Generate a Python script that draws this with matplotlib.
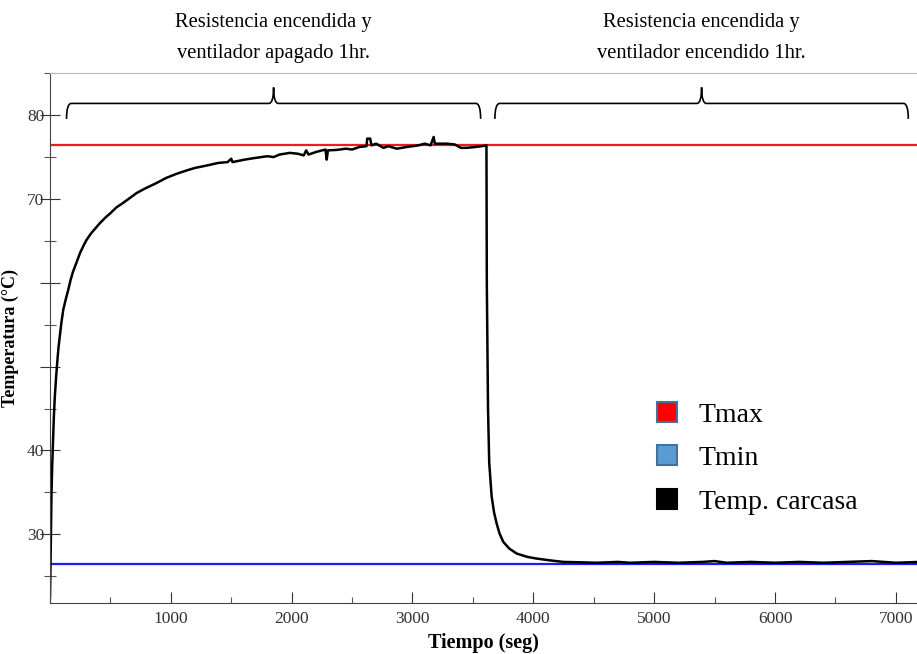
import matplotlib
matplotlib.use('Agg')
import matplotlib.pyplot as plt
from matplotlib.lines import Line2D
from matplotlib.path import Path
from matplotlib.patches import PathPatch
from matplotlib.ticker import MultipleLocator

# data
tiempo = [0, 3, 8, 12, 18, 25, 32, 40, 50, 60, 70, 81, 95, 110, 130, 150, 170, 190, 219, 250, 280, 302, 340,
          370, 412, 460, 500, 550, 592, 650, 716, 780, 881, 960, 1047, 1130, 1199, 1300, 1392, 1470, 1500,
          1510, 1613, 1700, 1800, 1850, 1900, 1985, 2050, 2100, 2120, 2140, 2200, 2280, 2290, 2300, 2372,
          2450, 2500, 2560, 2620, 2625, 2650, 2660, 2700, 2760, 2800, 2870, 2951, 3050, 3100, 3150, 3175,
          3185, 3282, 3350, 3400, 3448, 3520, 3599, 3612, 3615, 3625, 3635, 3655, 3675, 3696, 3720, 3751,
          3800, 3862, 3950, 4027, 4130, 4248, 4400, 4524, 4700, 4800, 5000, 5200, 5400, 5500, 5600, 5800,
          6000, 6200, 6400, 6600, 6800, 7000, 7200]
temp_carcasa = [22.5, 25.0, 30.0, 34.5, 38.0, 41.0, 44.0, 46.4, 48.6, 50.5, 52.2, 53.6, 55.3, 56.8, 58.0, 59.1, 60.3, 61.3, 62.4, 63.6, 64.5, 65.1, 65.9,
                66.4, 67.1, 67.8, 68.3, 69.0, 69.4, 70.0, 70.7, 71.2, 71.9, 72.5, 73.0, 73.4, 73.7, 74.0, 74.3, 74.4, 74.8,
                74.4, 74.7, 74.9, 75.1, 75.0, 75.3, 75.5, 75.4, 75.2, 75.8, 75.3, 75.6, 75.9, 74.7, 75.8, 75.85,
                76.0, 75.9, 76.2, 76.3, 77.2, 77.2, 76.4, 76.6, 76.1, 76.3, 76.0, 76.2, 76.4, 76.6, 76.4, 77.4,
                76.6, 76.6, 76.5, 76.1, 76.1, 76.2, 76.35, 76.4, 60.0, 45.0, 38.5, 34.5, 32.6, 31.3, 30.1, 29.1,
                28.3, 27.7, 27.3, 27.1, 26.9, 26.7, 26.65, 26.6, 26.7, 26.6, 26.7, 26.6, 26.7, 26.8, 26.6, 26.7,
                26.6, 26.7, 26.6, 26.7, 26.8, 26.6, 26.7]
t_max = 76.45
t_min = 26.4

y_ticks = [30, 40, 50, 60, 70, 80]
y_ticklabels = ['30', '40', '', '', '70', '80']
x_ticks = [1000, 2000, 3000, 4000, 5000, 6000, 7000]

etapas = ['Resistencia encendida y\nventilador apagado 1hr.',
          'Resistencia encendida y\nventilador encendido 1hr.']
etapa_inicio = [137, 3682]
etapa_fin = [3564, 7103]

plt.rcParams['font.family'] = ['Liberation Serif', 'DejaVu Serif']

fig = plt.figure(figsize=(9.17, 6.54), dpi=100)
ax = fig.add_axes([0.0545, 0.078, 0.9455, 0.810])

ax.axhline(t_max, color='#ee1c1c', lw=1.6)
ax.axhline(t_min, color='#1a1aff', lw=1.6)
ax.plot(tiempo, temp_carcasa, color='black', lw=1.8)

ax.set_xlim(0, 7175)
ax.set_ylim(21.8, 85.0)

ax.set_yticks(y_ticks)
ax.set_yticklabels(y_ticklabels)
ax.yaxis.set_minor_locator(MultipleLocator(5))
ax.set_xticks(x_ticks)
ax.xaxis.set_minor_locator(MultipleLocator(500))
ax.tick_params(axis='y', which='major', direction='inout', length=14, width=0.8, labelsize=12.5, pad=-3, colors='#333333')
ax.tick_params(axis='y', which='minor', direction='inout', length=8, width=0.8, colors='#555555')
ax.tick_params(axis='x', which='major', direction='in', length=8, width=0.8, labelsize=12.5, pad=6, colors='#333333')
ax.tick_params(axis='x', which='minor', direction='in', length=4, width=0.8, colors='#555555')

ax.spines['right'].set_visible(False)
ax.spines['top'].set_color('#bbbbbb')
ax.spines['left'].set_color('#444444')
ax.spines['bottom'].set_color('#444444')

ax.set_xlabel('Tiempo (seg)', fontsize=14.5, fontweight='bold', labelpad=4)
ax.set_ylabel('Temperatura (°C)', fontsize=13, fontweight='bold')
ax.yaxis.set_label_coords(-0.036, 0.5)

# braces over each stage
y_end, y_bar, y_tip = 79.55, 81.4, 83.3
rx = 40
for x0, x1, label in zip(etapa_inicio, etapa_fin, etapas):
    xm = (x0 + x1) / 2
    verts = [(x0, y_end), (x0, y_bar), (x0 + rx, y_bar),
             (xm - rx, y_bar), (xm, y_bar), (xm, y_tip),
             (xm, y_bar), (xm + rx, y_bar),
             (x1 - rx, y_bar), (x1, y_bar), (x1, y_end)]
    codes = [Path.MOVETO, Path.CURVE3, Path.CURVE3,
             Path.LINETO, Path.CURVE3, Path.CURVE3,
             Path.CURVE3, Path.CURVE3,
             Path.LINETO, Path.CURVE3, Path.CURVE3]
    ax.add_patch(PathPatch(Path(verts, codes), fill=False, lw=1.2, color='black', clip_on=False))
    ax.text(xm, 1.02, label, transform=ax.get_xaxis_transform(), ha='center', va='bottom',
            fontsize=14.8, linespacing=1.8)

handles = [Line2D([], [], marker='s', ls='none', markersize=14, markerfacecolor='#ff0000',
                  markeredgecolor='#41719c', markeredgewidth=1.5),
           Line2D([], [], marker='s', ls='none', markersize=14, markerfacecolor='#5b9bd5',
                  markeredgecolor='#41719c', markeredgewidth=1.5),
           Line2D([], [], marker='s', ls='none', markersize=14, markerfacecolor='black',
                  markeredgecolor='black', markeredgewidth=1.5)]
ax.legend(handles, ['Tmax', 'Tmin', 'Temp. carcasa'], loc='upper left', bbox_to_anchor=(0.686, 0.40),
          frameon=False, fontsize=20, handlelength=0.8, handletextpad=0.75, labelspacing=0.65,
          borderaxespad=0)

fig.savefig('out.png', dpi=100)
